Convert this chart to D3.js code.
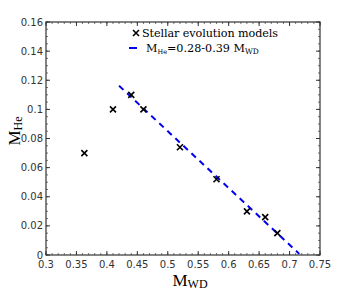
<!DOCTYPE html>
<html><head><meta charset="utf-8">
<script src="https://cdn.jsdelivr.net/npm/d3@7"></script>
<style>body{margin:0;background:#fff}</style>
</head><body>
<svg id="c" width="354" height="291"></svg>
<script>
const mwd = [0.363, 0.41, 0.44, 0.46, 0.52, 0.58, 0.63, 0.66, 0.68];
const mhe = [0.070, 0.100, 0.110, 0.100, 0.074, 0.052, 0.030, 0.026, 0.015];
const fitRange = [0.42, 0.716];
const fitA = 0.28, fitB = 0.39;
const xTicks = [0.3,0.35,0.4,0.45,0.5,0.55,0.6,0.65,0.7,0.75];
const yTicks = [0,0.02,0.04,0.06,0.08,0.1,0.12,0.14,0.16];

const svg = d3.select("#c");
const L=46,R=320,T=22,B=255;
const x = d3.scaleLinear().domain([0.3,0.75]).range([L,R]);
const y = d3.scaleLinear().domain([0,0.16]).range([B,T]);

const fmt = d => d===0 ? "0" : String(+d.toFixed(3));
const xMinor = d3.range(0.3,0.7501,0.01);
const yMinor = d3.range(0,0.1601,0.005);

const g = svg.append("g");
function ticks(vals, len, color){
  vals.forEach(v=>{
    g.append("line").attr("x1",x(v)).attr("x2",x(v)).attr("y1",B).attr("y2",B-len).attr("stroke",color);
    g.append("line").attr("x1",x(v)).attr("x2",x(v)).attr("y1",T).attr("y2",T+len).attr("stroke",color);
  });
}
function yt(vals,len,color){
  vals.forEach(v=>{
    g.append("line").attr("y1",y(v)).attr("y2",y(v)).attr("x1",L).attr("x2",L+len).attr("stroke",color);
    g.append("line").attr("y1",y(v)).attr("y2",y(v)).attr("x1",R).attr("x2",R-len).attr("stroke",color);
  });
}
ticks(xMinor,2,"#777"); yt(yMinor,2,"#777");
ticks(xTicks,4,"#333"); yt(yTicks,4,"#333");

svg.append("rect").attr("x",L).attr("y",T).attr("width",R-L).attr("height",B-T)
  .attr("fill","none").attr("stroke","#333").attr("stroke-width",1.2);

svg.append("g").selectAll("text").data(xTicks).join("text")
  .attr("x",d=>x(d)).attr("y",B+13).attr("text-anchor","middle")
  .attr("font-family","DejaVu Sans").attr("font-size",10).attr("fill","#333").text(fmt);
svg.append("g").selectAll("text").data(yTicks).join("text")
  .attr("x",L-3).attr("y",d=>y(d)+3.5).attr("text-anchor","end")
  .attr("font-family","DejaVu Sans").attr("font-size",10).attr("fill","#333").text(fmt);

const line = d3.line().x(d=>x(d)).y(d=>y(fitA-fitB*d));
svg.append("path").attr("d",line(fitRange)).attr("stroke","#0000ee").attr("stroke-width",2)
  .attr("stroke-dasharray","6,5").attr("fill","none");

const s=3;
const pts = svg.append("g").selectAll("g").data(mwd.map((d,i)=>[d,mhe[i]])).join("g")
  .attr("transform",d=>`translate(${x(d[0])},${y(d[1])})`);
pts.append("path").attr("d",`M${-s},${-s}L${s},${s}M${-s},${s}L${s},${-s}`)
  .attr("stroke","#000").attr("stroke-width",1.6);

const serif = "DejaVu Serif, Liberation Serif, serif";
const lg = svg.append("g").attr("font-family",serif).attr("font-size",11.2);
lg.append("path").attr("d",`M${136-s},${33-s}L${136+s},${33+s}M${136-s},${33+s}L${136+s},${33-s}`).attr("stroke","#000").attr("stroke-width",1.6);
lg.append("text").attr("x",142).attr("y",37).attr("textLength",136).text("Stellar evolution models");
lg.append("line").attr("x1",129).attr("x2",137).attr("y1",48).attr("y2",48).attr("stroke","#0000ee").attr("stroke-width",2);
const t2 = lg.append("text").attr("x",146).attr("y",52);
t2.append("tspan").text("M");
t2.append("tspan").attr("font-size",6.5).attr("dy",2).text("He");
t2.append("tspan").attr("dy",-2).text("=0.28-0.39 M");
t2.append("tspan").attr("font-size",7.5).attr("dy",2).text("WD");

const xl = svg.append("text").attr("x",190).attr("y",286).attr("text-anchor","middle")
  .attr("font-family","Liberation Serif, DejaVu Serif, serif").attr("font-size",17);
xl.append("tspan").text("M");
xl.append("tspan").attr("font-size",12).attr("dy",2).text("WD");
const yl = svg.append("text").attr("transform","translate(20,131) rotate(-90)").attr("text-anchor","middle")
  .attr("font-family","Liberation Serif, DejaVu Serif, serif").attr("font-size",17);
yl.append("tspan").text("M");
yl.append("tspan").attr("font-size",12).attr("dy",2).text("He");
</script>
</body></html>
